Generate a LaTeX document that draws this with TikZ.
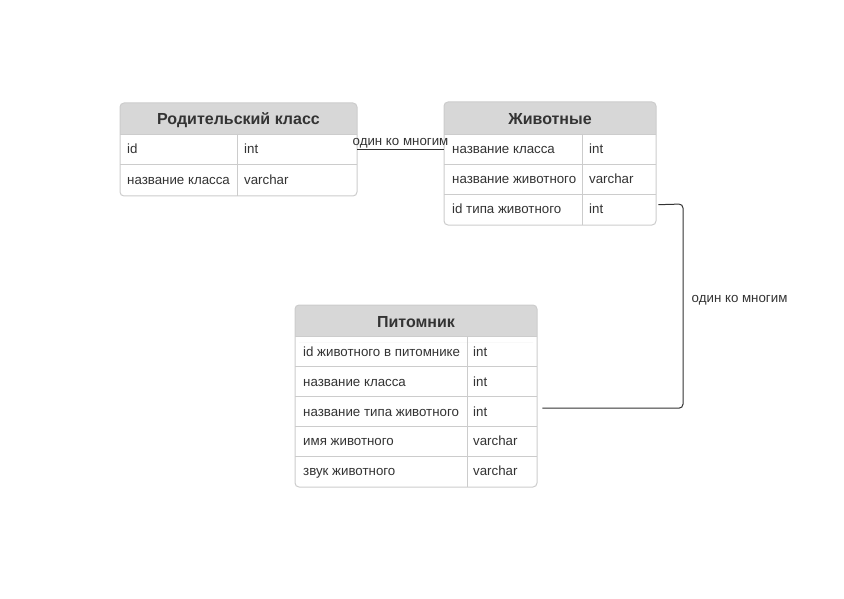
\documentclass[tikz,border=0pt]{standalone}
\usepackage{fontspec}
\setmainfont{Liberation Sans}
\definecolor{hdr}{HTML}{D7D7D7}
\definecolor{bd}{HTML}{CCCCCC}
\definecolor{txt}{HTML}{333333}
\newcommand{\tframe}[6]{%
  \fill[white, rounded corners=4] (#1,#3) rectangle (#2,#5);
  \fill[hdr, rounded corners=4] (#1,#3) rectangle (#2,#4+6);
  \fill[white] (#1,#4) rectangle (#2,#4+6);
  \draw[bd] (#6,#4) -- (#6,#5);
  \draw[bd] (#1,#4) -- (#2,#4);
  \draw[bd, line width=1, rounded corners=4] (#1,#3) rectangle (#2,#5);
}
\begin{document}
\begin{tikzpicture}[x=1pt,y=-1pt,
  cell/.style={anchor=base west, inner sep=0, font=\fontsize{13.3}{15}\selectfont, text=txt},
  ttl/.style={anchor=base, inner sep=0, font=\bfseries\fontsize{16}{19}\selectfont, text=txt},
  rowbox/.style={draw=none, inner sep=0, minimum height=30, anchor=north west},
  sep/.style={draw=bd},
  conn/.style={draw=txt, line width=1, rounded corners=4},
  lbl/.style={inner sep=0, font=\fontsize{13.3}{15}\selectfont, text=txt}]
\useasboundingbox (0,0) rectangle (844,599);

% ---- Table 1: Родительский класс
\tframe{120}{357}{103}{134}{196}{237}
\draw[sep] (120,164) -- (357,164);
\node[ttl] (t1h) at (238.5,125) {Родительский класс};
\node[rowbox, minimum width=237] (t1r1) at (120,134) {};
\node[rowbox, minimum width=237] (t1r2) at (120,164) {};
\node[cell] (t1a1) at (127,154) {id};
\node[cell] (t1b1) at (244,154) {int};
\node[cell] (t1a2) at (127,184.5) {название класса};
\node[cell] (t1b2) at (244,184.5) {varchar};

% ---- Table 2: Животные
\tframe{444}{656}{102}{134}{225}{582}
\draw[sep] (444,164) -- (656,164);
\draw[sep] (444,194) -- (656,194);
\node[ttl] (t2h) at (550,124.5) {Животные};
\node[rowbox, minimum width=212] (t2r1) at (444,134) {};
\node[rowbox, minimum width=212] (t2r2) at (444,164) {};
\node[rowbox, minimum width=212, minimum height=31] (t2r3) at (444,194) {};
\node[cell] (t2a1) at (452,153.5) {название класса};
\node[cell] (t2b1) at (589,153.5) {int};
\node[cell] (t2a2) at (452,183.5) {название животного};
\node[cell] (t2b2) at (589,183.5) {varchar};
\node[cell] (t2a3) at (452,213.5) {id типа животного};
\node[cell] (t2b3) at (589,213.5) {int};

% ---- Table 3: Питомник
\tframe{295}{537}{305}{336}{487}{467}
\draw[sep] (295,366) -- (537,366);
\draw[sep] (295,396) -- (537,396);
\draw[sep] (295,426) -- (537,426);
\draw[sep] (295,456) -- (537,456);
\node[ttl] (t3h) at (416,327) {Питомник};
\node[rowbox, minimum width=242] (t3r1) at (295,336) {};
\node[rowbox, minimum width=242] (t3r2) at (295,366) {};
\node[rowbox, minimum width=242] (t3r3) at (295,396) {};
\node[rowbox, minimum width=242] (t3r4) at (295,426) {};
\node[rowbox, minimum width=242, minimum height=31] (t3r5) at (295,456) {};
\node[cell] (t3a1) at (303,356) {id животного в питомнике};
\node[cell] (t3b1) at (473,356) {int};
\node[cell] (t3a2) at (303,386) {название класса};
\node[cell] (t3b2) at (473,386) {int};
\node[cell] (t3a3) at (303,416) {название типа животного};
\node[cell] (t3b3) at (473,416) {int};
\node[cell] (t3a4) at (303,445.5) {имя животного};
\node[cell] (t3b4) at (473,445.5) {varchar};
\node[cell] (t3a5) at (303,475.5) {звук животного};
\node[cell] (t3b5) at (473,475.5) {varchar};

% ---- connectors
\draw[conn] (t1r1.east) -- (t2r1.west);
\node[lbl, anchor=base] (c1l) at (400.5,146) {один ко многим};

\coordinate (c2s) at ([xshift=2pt,yshift=5pt]t2r3.east);
\coordinate (c2e) at ([xshift=5pt,yshift=3pt]t3r3.east);
\coordinate (c2m) at (683,204);
\draw[conn] (c2s) -- (c2m) |- (c2e);
\node[lbl, anchor=base west] (c2l) at (691.5,302.5) {один ко многим};
\end{tikzpicture}
\end{document}
